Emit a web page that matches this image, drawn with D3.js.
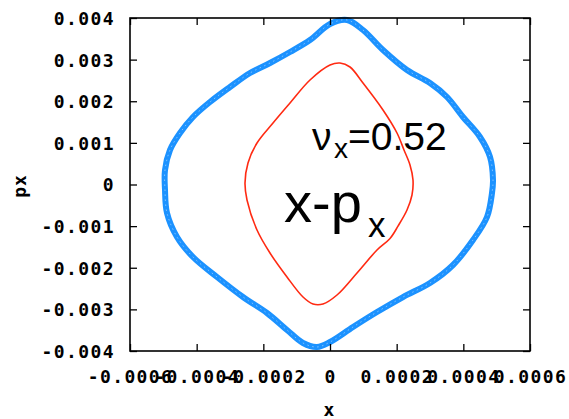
<!DOCTYPE html>
<html>
<head>
<meta charset="utf-8">
<script src="https://cdn.jsdelivr.net/npm/d3@7"></script>
<style>
  html, body { margin: 0; padding: 0; background: #fff; }
  svg { display: block; }
</style>
</head>
<body>
<svg id="chart" width="569" height="419"></svg>
<script>
// ---- data ----
const xTicks = [-0.0006, -0.0004, -0.0002, 0, 0.0002, 0.0004, 0.0006];
const xTickLabels = ["-0.0006", "-0.0004", "-0.0002", "0", "0.0002", "0.0004", "0.0006"];
const yTicks = [0.004, 0.003, 0.002, 0.001, 0, -0.001, -0.002, -0.003, -0.004];
const yTickLabels = ["0.004", "0.003", "0.002", "0.001", "0", "-0.001", "-0.002", "-0.003", "-0.004"];

// outer orbit (blue), x and px
const outerX = [0.000051, 0.000099, 0.000159, 0.000231, 0.000300, 0.000351, 0.000399, 0.000450, 0.000480, 0.000489,
  0.000486, 0.000471, 0.000429, 0.000369, 0.000300, 0.000219, 0.000141, 0.000069, 0.0, -0.000039,
  -0.000081, -0.000129, -0.000189, -0.000261, -0.000339, -0.000411, -0.000459, -0.000489, -0.000495,
  -0.000495, -0.000480, -0.000450, -0.000411, -0.000360, -0.000300, -0.000240, -0.000180, -0.000120, -0.000060, 0.0];
const outerPx = [0.003952, 0.003712, 0.003231, 0.002751, 0.002438, 0.002102, 0.001622, 0.001141, 0.000661, 0.000108,
  -0.000204, -0.000781, -0.001333, -0.001934, -0.002366, -0.002703, -0.003063, -0.003423, -0.003784, -0.003904,
  -0.003808, -0.003495, -0.003087, -0.002703, -0.002222, -0.001742, -0.001261, -0.000685, -0.000132,
  0.000348, 0.000829, 0.001237, 0.001622, 0.001982, 0.002342, 0.002679, 0.002919, 0.003183, 0.003471, 0.003856];

// inner orbit (red), x and px
const innerX = [0.000030, 0.000060, 0.000099, 0.000159, 0.000201, 0.000222, 0.000240, 0.000249, 0.000246, 0.000231,
  0.000204, 0.000180, 0.000141, 0.000081, 0.000021, -0.000021, -0.000051, -0.000081, -0.000129, -0.000180,
  -0.000219, -0.000249, -0.000255, -0.000246, -0.000219, -0.000171, -0.000120, -0.000060, 0.0];
const innerPx = [0.002919, 0.002823, 0.002438, 0.001790, 0.001237, 0.000829, 0.000469, 0.000108, -0.000252, -0.000613,
  -0.001000, -0.001297, -0.001574, -0.002126, -0.002655, -0.002871, -0.002871, -0.002703, -0.002222, -0.001646,
  -0.001093, -0.000372, 0.000036, 0.000517, 0.000997, 0.001477, 0.001958, 0.002511, 0.002871];

// ---- layout ----
const L = 130, R = 530, T = 18, B = 351;
const svg = d3.select("#chart");
svg.append("rect").attr("width", 569).attr("height", 419).attr("fill", "#fff");

const x = d3.scaleLinear().domain([-0.0006, 0.0006]).range([L, R]);
const y = d3.scaleLinear().domain([-0.004, 0.004]).range([B, T]);

const tickFont = "'DejaVu Sans Mono', monospace";

// curves
const line = d3.line().x(d => x(d[0])).y(d => y(d[1])).curve(d3.curveCatmullRomClosed.alpha(0.5));
const outer = outerX.map((v, i) => [v, outerPx[i]]);
const inner = innerX.map((v, i) => [v, innerPx[i]]);

svg.append("path").attr("d", line(outer)).attr("fill", "none")
  .attr("stroke", "#1c92ff").attr("stroke-width", 6).attr("stroke-linejoin", "round");
svg.append("path").attr("d", line(outer)).attr("fill", "none")
  .attr("stroke", "#ffffff").attr("stroke-width", 0.8).attr("stroke-opacity", 0.55)
  .attr("stroke-dasharray", "1.5,3.5");
svg.append("path").attr("d", line(inner)).attr("fill", "none")
  .attr("stroke", "#ff2a12").attr("stroke-width", 1.6);

// axes (inward ticks, mirrored)
function styleAxis(g) {
  g.select(".domain").remove();
  g.selectAll(".tick line").attr("stroke", "#000").attr("stroke-width", 1.3);
}
const gl = svg.append("g").attr("transform", `translate(${L},0)`)
  .call(d3.axisLeft(y).tickValues(yTicks).tickFormat((d, i) => yTickLabels[i]).tickSizeInner(-7).tickSizeOuter(0).tickPadding(15));
styleAxis(gl);
gl.selectAll(".tick text").attr("font-family", tickFont).attr("font-weight", "bold")
  .attr("font-size", 18).attr("letter-spacing", "1.4px").attr("fill", "#000")
  .attr("dy", "0.36em");

const gr = svg.append("g").attr("transform", `translate(${R},0)`)
  .call(d3.axisRight(y).tickValues(yTicks).tickFormat("").tickSizeInner(-7).tickSizeOuter(0));
styleAxis(gr);

const gb = svg.append("g").attr("transform", `translate(0,${B})`)
  .call(d3.axisBottom(x).tickValues(xTicks).tickFormat((d, i) => xTickLabels[i]).tickSizeInner(-7).tickSizeOuter(0));
styleAxis(gb);
gb.selectAll(".tick text").attr("font-family", tickFont).attr("font-weight", "bold")
  .attr("font-size", 18).attr("letter-spacing", "1.4px").attr("fill", "#000")
  .attr("y", 32).attr("dy", null);

const gt = svg.append("g").attr("transform", `translate(0,${T})`)
  .call(d3.axisTop(x).tickValues(xTicks).tickFormat("").tickSizeInner(-7).tickSizeOuter(0));
styleAxis(gt);

// frame
svg.append("rect").attr("x", L).attr("y", T).attr("width", R - L).attr("height", B - T)
  .attr("fill", "none").attr("stroke", "#000").attr("stroke-width", 1.6);

// axis titles
svg.append("text").attr("x", 329).attr("y", 416).attr("text-anchor", "middle")
  .attr("font-family", tickFont).attr("font-weight", "bold").attr("font-size", 18).text("x");
svg.append("text").attr("transform", "translate(26,186) rotate(-90)").attr("text-anchor", "middle")
  .attr("font-family", tickFont).attr("font-weight", "bold").attr("font-size", 18)
  .attr("letter-spacing", "1px").text("px");

// annotations
const annFont = "'Liberation Sans', Arial, sans-serif";
svg.append("text").attr("x", 312).attr("y", 150).attr("font-family", annFont).attr("font-size", 39).text("ν");
svg.append("text").attr("x", 334).attr("y", 158).attr("font-family", annFont).attr("font-size", 28).text("x");
svg.append("text").attr("x", 348).attr("y", 150).attr("font-family", annFont).attr("font-size", 39).text("=0.52");

svg.append("text").attr("x", 284).attr("y", 222).attr("font-family", annFont).attr("font-size", 56).text("x-p");
svg.append("text").attr("x", 368).attr("y", 237).attr("font-family", annFont).attr("font-size", 35).text("x");
</script>
</body>
</html>
